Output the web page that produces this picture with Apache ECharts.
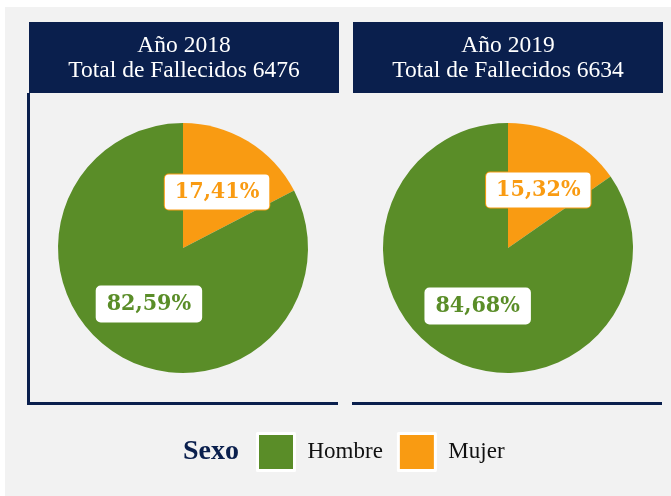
<!DOCTYPE html>
<html>
<head>
<meta charset="utf-8">
<script src="https://cdn.jsdelivr.net/npm/echarts@6/dist/echarts.min.js"></script>
<style>
  html, body { margin: 0; padding: 0; background: #ffffff; }
  #main { width: 671px; height: 496px; }
</style>
</head>
<body>
<div id="main"></div>
<script>
// datos
const years = ['2018', '2019']
const totals = [6476, 6634]
const categories = ['Hombre', 'Mujer']
const hombre = [82.59, 84.68]
const mujer = [17.41, 15.32]

const NAVY = '#0a1f4d'
const GREEN = '#5a8d28'
const ORANGE = '#f99b12'
const FONT = '"Liberation Serif", "Times New Roman", serif'
const LABEL_FONT = '"DejaVu Serif Condensed", "DejaVu Serif", serif'

const centersX = [183, 508]
const headerX = [29, 353]

var chartDom = document.getElementById('main')
var myChart = echarts.init(chartDom)

const pctFormat = (p) => p.value.toFixed(2).replace('.', ',') + '%'

const series = years.map((y, i) => ({
    type: 'pie',
    name: 'Año ' + y,
    center: [centersX[i], 248],
    radius: 125,
    startAngle: 90,
    clockwise: true,
    silent: true,
    label: {
        show: true,
        position: 'inside',
        formatter: pctFormat,
        fontFamily: LABEL_FONT,
        fontWeight: 'bold',
        fontSize: 23,
        lineHeight: 26,
        backgroundColor: '#ffffff',
        borderWidth: 1,
        borderRadius: 4,
        padding: [5, 10, 4, 10]
    },
    labelLine: { show: false },
    // Mujer primero para que empiece arriba
    data: [
        { name: 'Mujer', value: mujer[i], itemStyle: { color: ORANGE }, label: { color: ORANGE, borderColor: ORANGE } },
        { name: 'Hombre', value: hombre[i], itemStyle: { color: GREEN }, label: { color: GREEN, borderColor: '#ffffff' } }
    ]
}))

// encabezados y bordes
const graphics = [
    { type: 'rect', z: -10, shape: { x: 5, y: 7, width: 666, height: 489 }, style: { fill: '#f2f2f2' } }
]
years.forEach((y, i) => {
    graphics.push({
        type: 'rect',
        shape: { x: headerX[i], y: 22, width: 310, height: 71 },
        style: { fill: NAVY }
    })
    graphics.push({
        type: 'text',
        x: headerX[i] + 155,
        y: 58,
        style: {
            text: 'Año ' + y + '\nTotal de Fallecidos ' + totals[i],
            fill: '#ffffff',
            font: '23.5px ' + FONT,
            lineHeight: 25,
            align: 'center',
            verticalAlign: 'middle'
        }
    })
    graphics.push({
        type: 'line',
        shape: { x1: headerX[i] - 1, y1: 403.5, x2: headerX[i] + 309, y2: 403.5 },
        style: { stroke: NAVY, lineWidth: 3 }
    })
})
graphics.push({
    type: 'line',
    shape: { x1: 28.5, y1: 93, x2: 28.5, y2: 405 },
    style: { stroke: NAVY, lineWidth: 3 }
})
graphics.push({
    type: 'text',
    x: 183,
    y: 452,
    style: {
        text: 'Sexo',
        fill: NAVY,
        font: 'bold 28px ' + FONT,
        verticalAlign: 'middle'
    }
})

let option = {
    animation: false,
    backgroundColor: '#ffffff',
    legend: {
        data: categories,
        left: 256,
        top: 432,
        padding: 0,
        icon: 'rect',
        itemWidth: 37,
        itemHeight: 37,
        itemGap: 14,
        selectedMode: false,
        itemStyle: { borderColor: '#ffffff', borderWidth: 3 },
        textStyle: {
            fontFamily: FONT,
            fontSize: 23,
            color: '#111111',
            padding: [0, 0, 0, 8]
        }
    },
    graphic: graphics,
    series: series
}

option && myChart.setOption(option)
window.addEventListener('resize', () => {
    myChart.resize()
})
</script>
</body>
</html>
